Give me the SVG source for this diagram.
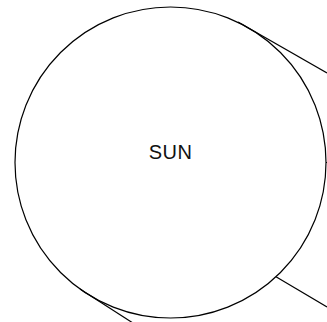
<svg xmlns="http://www.w3.org/2000/svg" width="327" height="322" viewBox="0 0 327 322">
<style>
.s{fill:none;stroke:#000;stroke-width:1.2}
.t{font-family:"Liberation Sans",Arial,sans-serif;font-size:20px;fill:#111;letter-spacing:0.5px}
</style>
<rect width="327" height="322" fill="#fff"/>
<g id="sun">
<circle class="s" cx="170.5" cy="162.5" r="155.5"/>
<text class="t" x="170.5" y="159" text-anchor="middle">SUN</text>
</g>
<g id="connectors">
<line class="s" x1="238" y1="21.9" x2="327" y2="73"/>
<line class="s" x1="276" y1="276.7" x2="327" y2="307"/>
<line class="s" x1="80" y1="289.1" x2="134" y2="323.7"/>
<line class="s" x1="326" y1="162.5" x2="327" y2="162.5"/>
</g>
</svg>
